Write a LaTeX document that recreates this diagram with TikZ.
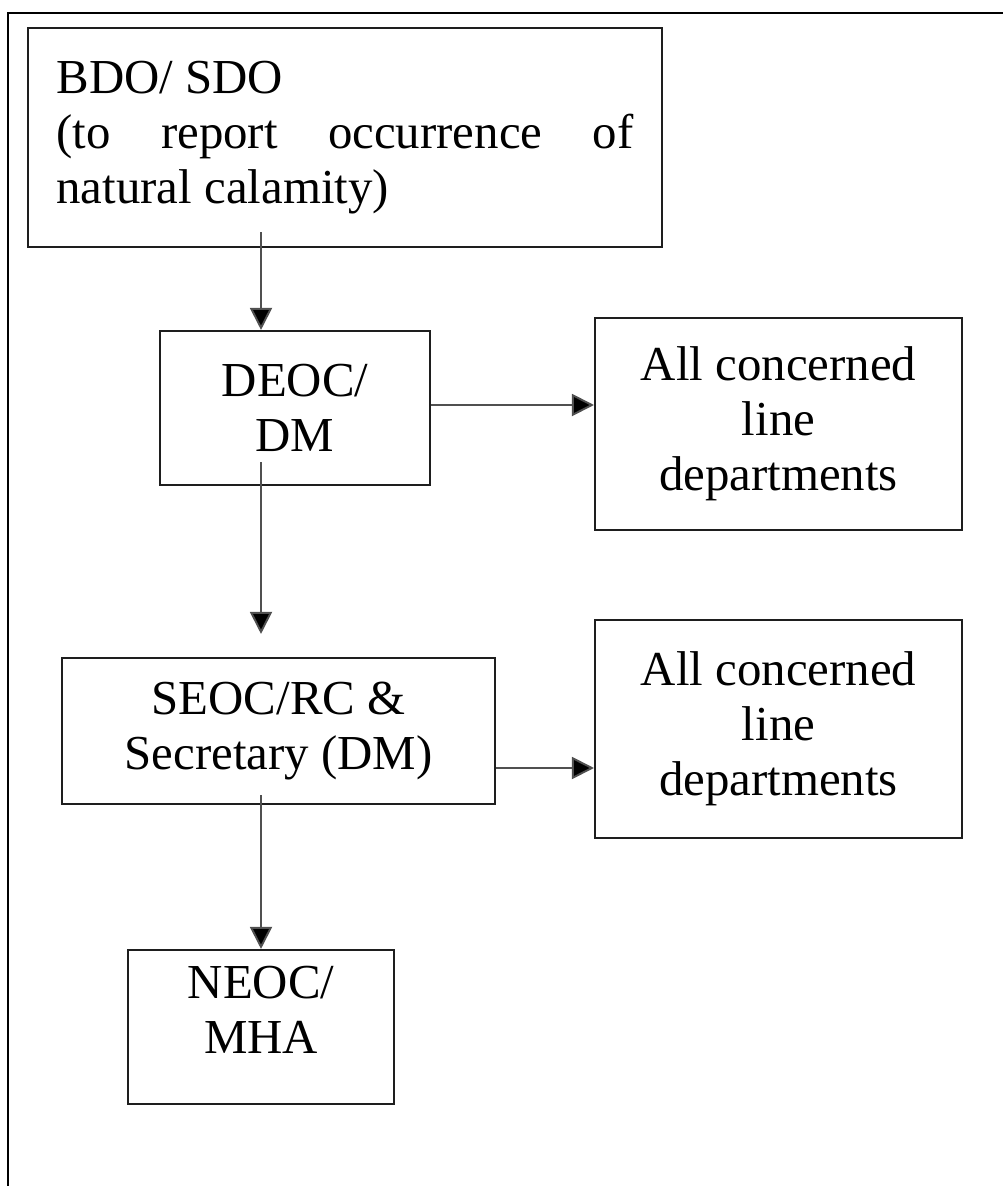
\documentclass[tikz,border=0pt]{standalone}
\usepackage{fontspec}
\setmainfont{Liberation Serif}
\usepackage{tikz}
\usetikzlibrary{arrows.meta,positioning}
\definecolor{boxline}{RGB}{30, 30, 30}
\definecolor{flowgray}{RGB}{80, 80, 80}

\tikzset{
  stepbox/.style={draw=boxline, line width=1.2pt, align=center, inner sep=0pt,
    font=\fontsize{27.8}{31.2}\selectfont},
  flow/.style={draw=flowgray, line width=1.1pt,
    -{Triangle[length=0.44cm, width=0.44cm, fill=black]}}
}

\begin{document}
\begin{tikzpicture}[x=0.02cm, y=-0.02cm]
    \useasboundingbox (0,0) rectangle (1003,1186);
    % Outer frame (cut off at right and bottom)
    \draw[line width=1.4pt] (8,1186) -- (8,13) -- (1003,13);

    % Boxes
    \node[stepbox, text width=11.54cm, inner xsep=0.57cm, minimum height=4.38cm, align=justify]
      (bdo) at (345,137.5) {BDO/ SDO\\ (to report occurrence of\linebreak natural calamity)};
    \node[stepbox, minimum width=5.4cm, minimum height=3.08cm] (deoc) at (295,408) {DEOC/\\ DM};
    \node[stepbox, minimum width=7.34cm, minimum height=4.24cm] (all1) at (778.5,424)
      {All concerned\\ line\\ departments};
    \node[stepbox, minimum width=8.66cm, minimum height=2.92cm] (seoc) at (278.5,731)
      {SEOC/RC \&\\ Secretary (DM)};
    \node[stepbox, minimum width=7.34cm, minimum height=4.36cm] (all2) at (778.5,729)
      {All concerned\\ line\\ departments};
    \node[stepbox, minimum width=5.32cm, minimum height=3.08cm, text depth=0.7cm] (neoc) at (261,1027)
      {NEOC/\\ MHA};

    % Connectors
    \coordinate (s1) at (261,232);
    \coordinate (s2) at (261,462);
    \coordinate (s3) at (261,795);
    \coordinate (s4) at ([yshift=-0.74cm]seoc.east);
    \draw[flow] (s1) -- (s1 |- deoc.north);
    \draw[flow, shorten >=0.46cm] (s2) -- (s2 |- seoc.north);
    \draw[flow] (s3) -- (s3 |- neoc.north);
    \draw[flow] ([yshift=0.06cm]deoc.east) -- ([yshift=0.06cm]deoc.east -| all1.west);
    \draw[flow] (s4) -- (s4 -| all2.west);
\end{tikzpicture}
\end{document}
